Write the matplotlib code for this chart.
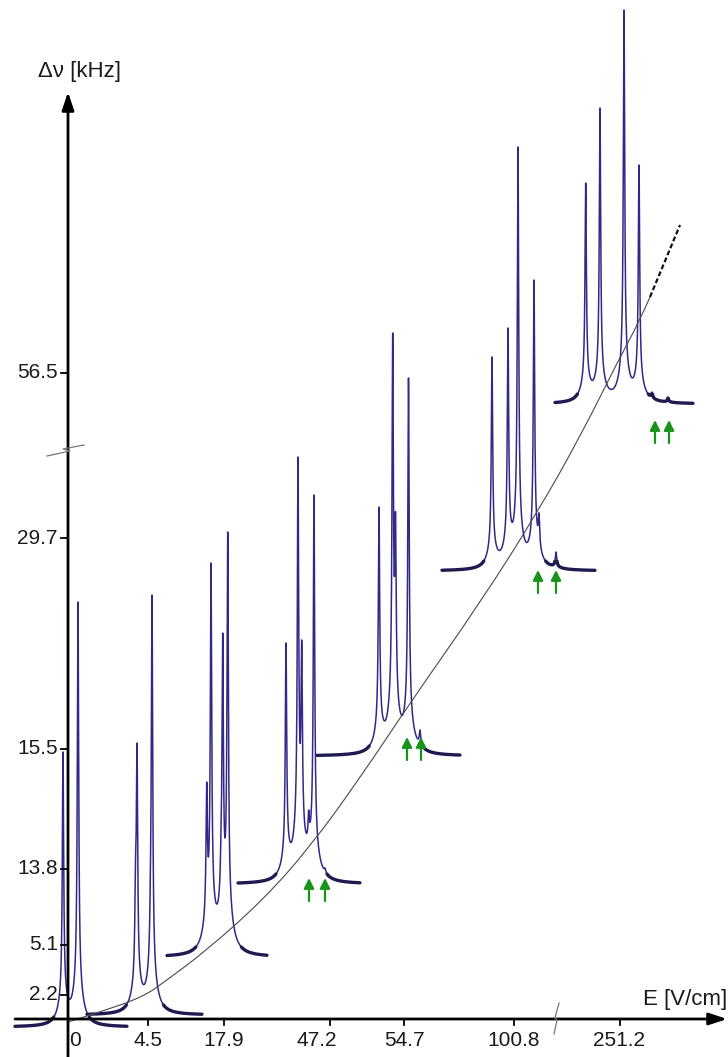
import numpy as np
import matplotlib
matplotlib.use("Agg")
import matplotlib.pyplot as plt
from matplotlib.path import Path
from matplotlib.patches import PathPatch

plt.rcParams["font.family"] = ["Liberation Sans", "DejaVu Sans"]

# ---- axis labelling -------------------------------------------------------
E_LABELS = ["0", "4.5", "17.9", "47.2", "54.7", "100.8", "251.2"]
DNU_LABELS = ["2.2", "5.1", "13.8", "15.5", "29.7", "56.5"]

# ---- spectra (canvas units; rows grow downward) ----------------------------
spec_start = [15, 87, 167, 238, 317, 442, 555]
spec_end = [127, 202, 267, 360, 460, 595, 693]
spec_base = [1027, 1015, 957, 884, 756, 571, 404]

peak_pos = [
    [63, 78],
    [135.5, 137, 150.5, 152],
    [206.7, 211, 221, 222.7, 227.7],
    [286, 298, 301.7, 308.7, 314, 325],
    [379, 392.7, 395.5, 408.5, 420],
    [492, 508, 518, 534, 539, 556],
    [585.7, 600, 624, 639, 652, 668],
]
peak_top = [
    [752, 602],
    [860, 743, 860, 595],
    [782, 563, 830, 633, 532],
    [643, 457, 640, 810, 495, 868],
    [507, 333, 512, 378, 730],
    [357, 328, 147, 280, 513, 552],
    [183, 108, 10, 165, 392, 398],
]

# weak satellite lines marked with arrows
satellite_x = [[309, 325], [407, 421], [538, 556], [655, 669]]
satellite_tip = [878, 737, 570, 420]

# trend of the line splitting against field
trend_x = [68, 100, 143, 167, 207, 263, 310, 360, 410, 482, 537, 580, 617, 640, 650]
trend_y = [1022, 1012, 997, 980, 950, 900, 847, 778, 703, 600, 513, 437, 363, 320, 297]
trend_ext_x = [650, 680]
trend_ext_y = [297, 225]

# ---- layout ----------------------------------------------------------------
AX_X, AX_Y = 68, 1019
ytick_rows = [995, 945, 869, 749, 538, 373]
xtick_cols = [148, 224, 330, 404, 514, 620]
xlabel_cols = [75, 148, 224, 317, 404, 514, 619]

LINE = "#30298a"
BASE = "#1d1b4f"
GREEN = "#17921b"
TEXT = "#1a1a1a"


def shape(d, g1=0.8, g2=5.0):
    return 0.9 * g1**2 / (d**2 + g1**2) + 0.1 * g2**2 / (d**2 + g2**2)


fig = plt.figure(figsize=(7.28, 10.57), dpi=100)
ax = fig.add_axes([0, 0, 1, 1])
ax.set_xlim(0, 728)
ax.set_ylim(1057, 0)
ax.axis("off")

# spectra
for x0, x1, base, pos, top in zip(spec_start, spec_end, spec_base, peak_pos, peak_top):
    pos = np.asarray(pos, float)
    h = base - np.asarray(top, float)
    M = shape(pos[:, None] - pos[None, :])
    amp = np.linalg.solve(M, h)
    x = np.unique(np.concatenate([np.arange(x0, x1, 0.05), pos]))
    sig = (amp[None, :] * shape(x[:, None] - pos[None, :])).sum(axis=1)
    y = base - sig
    ax.plot(x, y, color=LINE, lw=1.1, zorder=3, solid_joinstyle="round")
    yb = np.where(sig < 10.0, y, np.nan)
    ax.plot(x, yb, color=BASE, lw=2.4, zorder=3, solid_capstyle="round")

# trend curve, drawn as a smooth quadratic path through the read points
pts = np.column_stack([trend_x, trend_y]).astype(float)
verts = [pts[0]]
codes = [Path.MOVETO]
for i in range(1, len(pts) - 1):
    end = (pts[i] + pts[i + 1]) / 2 if i < len(pts) - 2 else pts[i + 1]
    verts += [pts[i], end]
    codes += [Path.CURVE3, Path.CURVE3]
ax.add_patch(PathPatch(Path(verts, codes), fill=False, edgecolor="#4a4a4a",
                       lw=0.8, zorder=4))
ax.plot(trend_ext_x, trend_ext_y, color="#111111", lw=1.6, ls=(0, (2.2, 1.2)), zorder=4)

# satellite arrows
for xs, tip in zip(satellite_x, satellite_tip):
    for xa in xs:
        ax.annotate("", xy=(xa, tip), xytext=(xa, tip + 23),
                    arrowprops=dict(arrowstyle="-|>,head_length=0.6,head_width=0.3",
                                    color=GREEN, lw=1.6, mutation_scale=10,
                                    shrinkA=0, shrinkB=0), zorder=5)

# axes with arrows
arrow_kw = dict(arrowstyle="-|>,head_length=0.9,head_width=0.3", color="black",
                lw=2.0, mutation_scale=12, shrinkA=0, shrinkB=0)
ax.annotate("", xy=(AX_X, 92), xytext=(AX_X, 1057), arrowprops=arrow_kw, zorder=6)
ax.annotate("", xy=(727, AX_Y), xytext=(15, AX_Y), arrowprops=arrow_kw, zorder=6)

# ticks and tick labels
for row, lab in zip(ytick_rows, DNU_LABELS):
    ax.plot([61, AX_X], [row, row], color="black", lw=1.3, zorder=6)
    ax.text(58, row, lab, ha="right", va="center", fontsize=15, color=TEXT)
for col in xtick_cols:
    ax.plot([col, col], [AX_Y, AX_Y + 6], color="black", lw=1.3, zorder=6)
for col, lab in zip(xlabel_cols, E_LABELS):
    ax.text(col, 1041, lab, ha="center", va="center", fontsize=15, color=TEXT)

# axis breaks
ax.plot([47, 70, 63, 84], [456, 451, 449, 445], color="#777777", lw=0.9, zorder=7)
ax.plot([554, 557, 555, 559], [1034, 1020, 1018, 1003], color="#777777", lw=0.9, zorder=7)

# axis titles
ax.text(79, 72, "Δν [kHz]", ha="center", va="center", fontsize=16, color=TEXT)
ax.text(727, 1000, "E [V/cm]", ha="right", va="center", fontsize=16, color=TEXT)

fig.savefig("out.png", dpi=100, facecolor="white")
